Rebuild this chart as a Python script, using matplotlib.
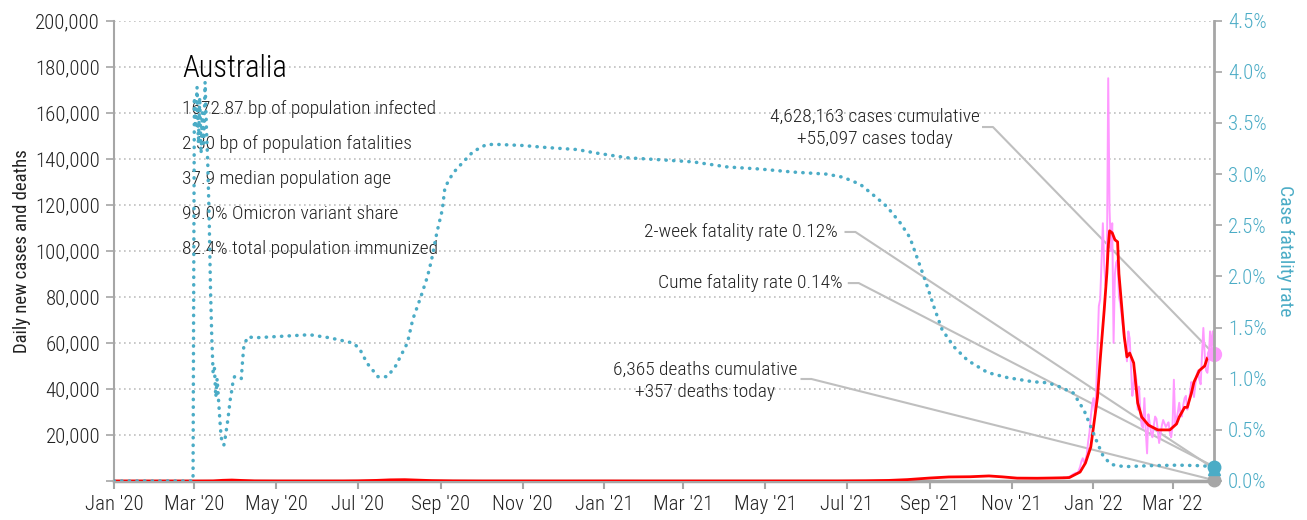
import numpy as np
import pandas as pd
import matplotlib
matplotlib.use('Agg')
import matplotlib.pyplot as plt
import matplotlib.dates as mdates
from matplotlib import font_manager
from matplotlib.ticker import MultipleLocator, FuncFormatter

# ---- data ----
country = 'Australia'
stats = ['1672.87 bp of population infected',
         '2.30 bp of population fatalities',
         '37.9 median population age',
         '99.0% Omicron variant share',
         '82.4% total population immunized']
cases_cum = 4628163
cases_today = 55097
deaths_cum = 6365
deaths_today = 357
cfr_2wk = 0.12
cfr_cume = 0.14

# 7-day average of new cases (red)
avg_dates = ['2020-01-01', '2020-03-01', '2020-03-15', '2020-03-22', '2020-03-29', '2020-04-05',
             '2020-04-15', '2020-05-01', '2020-06-01', '2020-06-20', '2020-07-01', '2020-07-15',
             '2020-07-25', '2020-08-05', '2020-08-15', '2020-08-25', '2020-09-10', '2020-10-01',
             '2020-12-01', '2020-12-25', '2021-01-05', '2021-02-01', '2021-05-01', '2021-06-25',
             '2021-07-15', '2021-08-01', '2021-08-15', '2021-09-01', '2021-09-15', '2021-10-01',
             '2021-10-15', '2021-10-25', '2021-11-05', '2021-11-20', '2021-12-01', '2021-12-10',
             '2021-12-14', '2021-12-22', '2021-12-26', '2021-12-30', '2022-01-01', '2022-01-04',
             '2022-01-06', '2022-01-09', '2022-01-11', '2022-01-12', '2022-01-13', '2022-01-15',
             '2022-01-17', '2022-01-19', '2022-01-20', '2022-01-24', '2022-01-26', '2022-01-28',
             '2022-01-31', '2022-02-03', '2022-02-06', '2022-02-11', '2022-02-18', '2022-02-27',
             '2022-03-04', '2022-03-06', '2022-03-10', '2022-03-12', '2022-03-15', '2022-03-17',
             '2022-03-21', '2022-03-25', '2022-03-27', '2022-03-31', '2022-04-01']
avg_cases = [0, 2, 40, 300, 420, 250,
             50, 15, 10, 20, 70, 270,
             500, 580, 380, 180, 60, 15,
             10, 20, 25, 10, 15, 30,
             100, 250, 600, 1300, 1750, 1850,
             2200, 1800, 1250, 1200, 1300, 1400,
             1500, 3900, 7800, 14800, 23500, 36500,
             52600, 74300, 90400, 101700, 108700, 107800,
             104800, 103900, 90000, 62600, 53900, 55600,
             51300, 33900, 27800, 24300, 22200, 22200,
             24800, 27800, 32000, 32000, 38000, 43000,
             48000, 50000, 53500, 55600, 56000]

# daily new cases (pink), one value per day from 2021-12-10
daily_start = '2021-12-10'
daily_cases = [1500, 1400, 1300, 1700, 1900, 2100, 2600, 3000, 3300, 3600,
               3200, 4600, 6100, 8500, 9900, 8000, 9300, 11500, 17000, 21000,
               28000, 33000, 36000, 30000, 38000, 58000, 76000, 79000, 95000, 112000,
               94000, 85000, 92000, 175000, 118000, 100000, 112000, 60000, 90000, 95000,
               96000, 80000, 77000, 72000, 67000, 62000, 58000, 52000, 65000, 62000,
               50000, 37000, 42000, 48000, 44000, 31000, 41000, 30000, 24000, 23000,
               36000, 22000, 12000, 29000, 25000, 21000, 19000, 24000, 28000, 27000,
               22000, 16500, 20000, 24000, 26500, 25000, 23500, 24500, 25500, 21000,
               19000, 24000, 44000, 25000, 27000, 30000, 34000, 29000, 28000, 33000,
               36000, 37000, 31000, 33000, 38000, 43000, 41000, 36500, 42000, 46000,
               48000, 44000, 42000, 55000, 66500, 55000, 48000, 47000, 52600, 65000,
               58000, 65000, 55097]

# daily deaths (grey)
death_dates = ['2020-01-01', '2020-03-01', '2020-04-05', '2020-06-01', '2020-08-05', '2020-09-01',
               '2020-10-01', '2021-08-01', '2021-09-15', '2021-10-15', '2021-12-15', '2022-01-20',
               '2022-02-10', '2022-03-10', '2022-03-31', '2022-04-01']
daily_deaths = [0, 0, 5, 0, 20, 15, 2, 2, 12, 15, 3, 80, 50, 25, 40, 357]

# case fatality rate, % (teal dotted, right axis)
cfr_dates = ['2020-01-01', '2020-02-29', '2020-03-01', '2020-03-02', '2020-03-03', '2020-03-04',
             '2020-03-05', '2020-03-06', '2020-03-07', '2020-03-08', '2020-03-09', '2020-03-10',
             '2020-03-11', '2020-03-12', '2020-03-13', '2020-03-14', '2020-03-15', '2020-03-16',
             '2020-03-17', '2020-03-18', '2020-03-19', '2020-03-20', '2020-03-21', '2020-03-22',
             '2020-03-23', '2020-03-24', '2020-03-26', '2020-03-28', '2020-03-29', '2020-03-30',
             '2020-03-31', '2020-04-05', '2020-04-06', '2020-04-07', '2020-04-10', '2020-04-15',
             '2020-05-26', '2020-06-10', '2020-06-27', '2020-07-02', '2020-07-08', '2020-07-16',
             '2020-07-23', '2020-07-29', '2020-08-07', '2020-08-11', '2020-08-17', '2020-08-22',
             '2020-08-25', '2020-08-29', '2020-09-02', '2020-09-04', '2020-09-10', '2020-09-17',
             '2020-09-25', '2020-10-05', '2020-10-14', '2020-11-01', '2020-11-19', '2020-12-12',
             '2020-12-24', '2021-01-18', '2021-02-12', '2021-03-08', '2021-04-03', '2021-04-27',
             '2021-05-22', '2021-06-16', '2021-06-28', '2021-07-11', '2021-07-24', '2021-07-31',
             '2021-08-10', '2021-08-17', '2021-08-23', '2021-08-29', '2021-09-04', '2021-09-10',
             '2021-09-19', '2021-09-29', '2021-10-14', '2021-10-29', '2021-11-17', '2021-11-28',
             '2021-12-07', '2021-12-17', '2021-12-25', '2021-12-30', '2022-01-04', '2022-01-08',
             '2022-01-12', '2022-01-15', '2022-01-24', '2022-02-13', '2022-03-05', '2022-03-21',
             '2022-04-01']
cfr = [0, 0, 3.75, 3.45, 3.85, 3.3,
       3.75, 3.2, 3.6, 3.3, 3.9, 3.45,
       3.1, 2.6, 1.9, 1.4, 1.05, 1.1,
       0.82, 1.0, 0.8, 0.6, 0.43, 0.37,
       0.35, 0.42, 0.6, 0.82, 0.89, 0.99,
       1.02, 1.0, 1.18, 1.33, 1.41, 1.40,
       1.43, 1.40, 1.35, 1.30, 1.15, 1.02,
       1.02, 1.12, 1.35, 1.58, 1.80, 2.0,
       2.16, 2.43, 2.65, 2.87, 3.01, 3.11,
       3.22, 3.29, 3.29, 3.28, 3.26, 3.24,
       3.21, 3.16, 3.14, 3.12, 3.07, 3.05,
       3.02, 3.00, 2.97, 2.90, 2.76, 2.68,
       2.52, 2.38, 2.16, 1.94, 1.70, 1.48,
       1.31, 1.18, 1.06, 1.01, 0.97, 0.96,
       0.92, 0.86, 0.69, 0.53, 0.37, 0.25,
       0.19, 0.16, 0.14, 0.15, 0.155, 0.15,
       0.14]

x_start, x_end = '2020-01-01', '2022-04-01'

# ---- style ----
teal = '#4BACC6'
pink = '#FF99FF'
grey = '#A6A6A6'
txt = '#222222'


def pick_font():
    fl = font_manager.fontManager.ttflist
    names = {f.name for f in fl}
    for nm in ['Roboto Condensed', 'Liberation Sans Narrow', 'DejaVu Sans Condensed',
               'Open Sans Condensed', 'Noto Sans Condensed']:
        if nm in names:
            return nm, 'normal'
    for f in fl:
        if f.stretch == 'condensed' and f.name in ('Roboto', 'Noto Sans', 'Open Sans', 'DejaVu Sans'):
            return f.name, 'condensed'
    return 'DejaVu Sans', 'normal'


fam, stretch = pick_font()
plt.rcParams['font.family'] = fam
plt.rcParams['font.stretch'] = stretch
plt.rcParams['font.weight'] = 'light'
fs = 14
tfs = 15

avg_x = pd.to_datetime(avg_dates)
daily_x = pd.date_range(daily_start, periods=len(daily_cases), freq='D')
death_x = pd.to_datetime(death_dates)
cfr_x = pd.to_datetime(cfr_dates)

fig = plt.figure(figsize=(13.07, 5.2), dpi=100)
ax = fig.add_subplot(111)
fig.subplots_adjust(left=0.0872, right=0.9289, top=0.9602, bottom=0.075)
ax2 = ax.twinx()

ax.plot(daily_x, daily_cases, color=pink, lw=1.4, zorder=3)
ax.plot(death_x, daily_deaths, color=grey, lw=1.5, zorder=3)
ax.plot(avg_x, avg_cases, color='red', lw=2.0, zorder=4)
ax2.plot(cfr_x, cfr, color=teal, lw=2.5, linestyle=(0, (0.1, 2.1)),
         dash_capstyle='round', zorder=3)

ax.set_xlim(pd.Timestamp(x_start), pd.Timestamp(x_end))
ax.set_ylim(0, 200000)
ax2.set_ylim(0, 4.5)

ax.yaxis.set_major_locator(MultipleLocator(20000))
ax.yaxis.set_major_formatter(FuncFormatter(lambda v, p: '' if v == 0 else '{:,.0f}'.format(v)))
ax2.yaxis.set_major_locator(MultipleLocator(0.5))
ax2.yaxis.set_major_formatter(FuncFormatter(lambda v, p: '%.1f%%' % v))
ax.xaxis.set_major_locator(mdates.MonthLocator(bymonth=[1, 3, 5, 7, 9, 11]))
ax.xaxis.set_major_formatter(mdates.DateFormatter("%b '%y"))

ax.yaxis.grid(True, linestyle=(0, (1, 2)), color='#BFBFBF', lw=1.2)
ax.set_axisbelow(True)

ax.tick_params(axis='y', length=6, width=1.2, color=grey, labelcolor=txt, labelsize=tfs, pad=4)
ax.tick_params(axis='x', length=6, width=1.5, color=grey, labelcolor=txt, labelsize=tfs, pad=4)
ax2.tick_params(axis='y', length=6, width=1.2, color=grey, labelcolor=teal, labelsize=tfs, pad=4)

for s in ['top', 'right']:
    ax.spines[s].set_visible(False)
for s in ['top', 'left', 'bottom']:
    ax2.spines[s].set_visible(False)
ax.spines['left'].set_color(grey)
ax.spines['left'].set_linewidth(1.5)
ax.spines['bottom'].set_color(grey)
ax.spines['bottom'].set_linewidth(2.5)
ax2.spines['right'].set_color(grey)
ax2.spines['right'].set_linewidth(2)

ax.set_ylabel('Daily new cases and deaths', fontsize=13.5, color=txt, labelpad=3)
ax2.set_ylabel('Case fatality rate', fontsize=14, color=teal, rotation=270, va='bottom', labelpad=7)

# country block
ax.text(0.062, 0.897, country, transform=ax.transAxes, fontsize=22, va='center', color='black')
for i, line in enumerate(stats):
    ax.text(0.062, 0.808 - i * 0.0760, line, transform=ax.transAxes, fontsize=fs,
            va='center', color=txt)

# end markers
last = daily_x[-1]
ax.plot(last, daily_cases[-1], 'o', ms=10, color=pink, clip_on=False, zorder=6)
ax.plot(last, daily_deaths[-1], 'o', ms=9, color=grey, clip_on=False, zorder=6)
ax2.plot(last, cfr_cume, 'o', ms=9, color=teal, clip_on=False, zorder=6)
ax2.plot(last, cfr_2wk, '^', ms=9, color=teal, clip_on=False, zorder=6)


def connector(src_ax, start, yval):
    # short flat stub from the label, then straight to the end marker
    end = ax.transAxes.inverted().transform(
        src_ax.transData.transform((mdates.date2num(last), yval)))
    ax.plot([start[0], start[0] + 0.009, end[0]], [start[1], start[1], end[1]],
            transform=ax.transAxes, color='#BFBFBF', lw=1.5, clip_on=False, zorder=2)


ax.text(0.692, 0.768, '{:,} cases cumulative\n+{:,} cases today'.format(cases_cum, cases_today),
        transform=ax.transAxes, ha='center', va='center', fontsize=fs, color=txt, linespacing=1.3)
connector(ax, (0.790, 0.769), daily_cases[-1])

ax.text(0.658, 0.541, '2-week fatality rate %.2f%%' % cfr_2wk, transform=ax.transAxes,
        ha='right', va='center', fontsize=fs, color=txt)
connector(ax2, (0.665, 0.541), cfr_2wk)

ax.text(0.662, 0.430, 'Cume fatality rate %.2f%%' % cfr_cume, transform=ax.transAxes,
        ha='right', va='center', fontsize=fs, color=txt)
connector(ax2, (0.668, 0.430), cfr_cume)

ax.text(0.537, 0.218, '{:,} deaths cumulative\n+{:,} deaths today'.format(deaths_cum, deaths_today),
        transform=ax.transAxes, ha='center', va='center', fontsize=fs, color=txt, linespacing=1.3)
connector(ax, (0.625, 0.2216), daily_deaths[-1])

fig.savefig('out.png', dpi=100)
